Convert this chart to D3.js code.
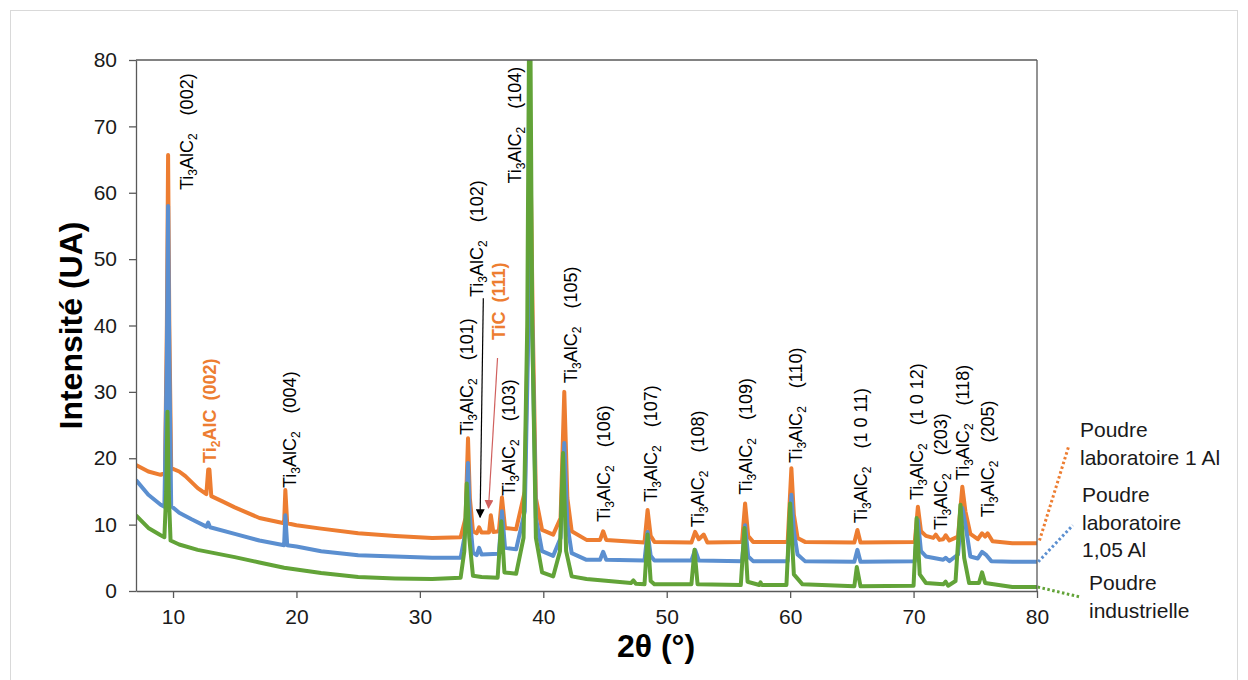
<!DOCTYPE html>
<html><head><meta charset="utf-8">
<script src="https://cdn.jsdelivr.net/npm/d3@7"></script>
<style>
html,body{margin:0;padding:0;background:#fff;}
svg{display:block;font-family:"Liberation Sans",Arial,sans-serif;}
</style></head>
<body><svg id="chart" width="1248" height="680"></svg>
<script>
// ---- Data (2θ in degrees, intensity in UA) ----
const seriesNames = ["Poudre laboratoire 1 Al","Poudre laboratoire 1,05 Al","Poudre industrielle"];
const seriesColors = ["#ED7D31","#5B8FD0","#62A338"];
const labo1Al = [[7,19],[8,18],[9,17.5],[9.35,17.8],[9.5,40],[9.6,65.7],[9.7,40],[9.85,18.5],[10.5,18],[11,17.3],[12,15.5],[12.7,14.6],[12.85,18.3],[12.95,18.3],[13.1,14.3],[14,13.5],[15,12.6],[17,11],[19,10.2],[19.1,15.2],[19.25,10.2],[20,9.9],[22,9.4],[25,8.7],[28,8.3],[31,8],[33.3,8.1],[33.7,11],[33.9,23],[34.05,14],[34.3,9],[34.6,8.7],[34.8,9.6],[35,8.8],[35.6,8.8],[35.75,11.4],[35.95,8.9],[36.4,9],[36.65,14.1],[36.9,9.5],[37.8,9.3],[38.5,15],[38.8,45],[38.95,67],[39.15,40],[39.4,14],[39.9,9.2],[40.8,8.5],[41.4,11],[41.7,30],[41.95,14],[42.3,9],[43.5,7.7],[44.6,7.7],[44.85,9],[45.1,7.7],[48.2,7.3],[48.45,12.2],[48.7,8.3],[49,7.4],[52,7.3],[52.3,8.9],[52.6,7.8],[53,8.5],[53.3,7.3],[56.1,7.4],[56.35,13.2],[56.6,8.3],[57,7.4],[59.8,7.4],[60.1,18.5],[60.3,11.5],[60.6,8],[61.2,7.4],[65.2,7.3],[65.45,9.2],[65.7,7.3],[70.1,7.4],[70.35,12.7],[70.6,9],[71,8.3],[71.6,8],[71.8,8.5],[72.1,7.7],[72.4,7.8],[72.6,8.4],[72.9,7.6],[73.6,8.2],[73.95,15.7],[74.2,12],[74.6,8.6],[75.2,7.8],[75.55,8.7],[75.8,8.2],[76,8.7],[76.4,7.5],[78,7.2],[80,7.2]];
const labo105Al = [[7,16.7],[8,14.5],[9,13],[9.3,12.7],[9.5,35],[9.6,58],[9.7,35],[9.85,12.8],[10.5,11.8],[11.5,10.8],[12.7,9.7],[12.85,10.3],[13,9.6],[15,8.6],[17,7.6],[19,6.9],[19.1,11.4],[19.25,6.9],[20,6.7],[22,6],[25,5.4],[28,5.2],[31,5],[33.3,5],[33.7,9],[33.9,19.3],[34.05,11],[34.3,5.8],[34.6,5.4],[34.8,6.5],[35,5.5],[36.4,5.6],[36.65,12],[36.9,6.5],[37.8,6.3],[38.5,12],[38.8,40],[38.95,58],[39.15,35],[39.4,11],[39.9,6],[40.8,5.3],[41.4,8],[41.7,22.3],[41.95,10],[42.3,5.7],[43.5,4.7],[44.6,4.7],[44.85,5.9],[45.1,4.7],[48.2,4.6],[48.45,8.9],[48.7,5.3],[49,4.6],[52,4.6],[52.3,6.2],[52.6,4.6],[56.1,4.5],[56.35,9.9],[56.6,5.2],[57,4.5],[59.8,4.5],[60.1,14.5],[60.3,9],[60.6,5.5],[61.2,4.5],[65.2,4.4],[65.45,6.2],[65.7,4.4],[70.1,4.5],[70.35,10.7],[70.6,6],[71,5.2],[72.4,4.7],[72.6,5],[72.9,4.5],[73.6,5.5],[73.95,12.5],[74.2,10],[74.6,5.2],[75.2,4.9],[75.55,5.9],[75.9,5.4],[76.3,4.5],[78,4.4],[80,4.4]];
const industrielle = [[7,11.4],[8,9.5],[9,8.4],[9.3,8.1],[9.45,15],[9.55,27],[9.65,15],[9.8,7.6],[10.5,7],[12,6.2],[15,5.1],[17,4.3],[19,3.5],[22,2.7],[25,2.1],[28,1.9],[31,1.8],[33.3,2],[33.6,6],[33.8,16.2],[34,8],[34.3,2.3],[35,2.1],[36.3,2],[36.6,10.5],[36.85,2.8],[37.8,2.6],[38.4,8],[38.7,40],[38.9,100],[39.1,40],[39.4,8],[39.9,2.8],[40.8,2.2],[41.35,6],[41.6,20.8],[41.85,6],[42.3,2.2],[43.5,1.8],[47.1,1.2],[47.3,1.6],[47.5,1.1],[48.2,1],[48.45,8.5],[48.7,1.5],[49,1],[52,1],[52.25,6.2],[52.5,1],[56,0.9],[56.3,9.5],[56.55,1.4],[57.5,0.9],[57.6,1.3],[57.7,0.9],[59.7,0.9],[60,13.2],[60.3,2.5],[61,1],[65.2,0.7],[65.4,3.6],[65.7,0.7],[70,0.8],[70.25,11],[70.5,2.5],[71,1.2],[72.4,1],[72.6,1.4],[72.8,0.8],[73.4,1.5],[73.8,13],[74.1,5],[74.5,1.2],[75.3,1.2],[75.55,2.8],[75.8,1.2],[78,0.6],[80,0.6]];
const xTicks = [10,20,30,40,50,60,70,80];
const yTicks = [0,10,20,30,40,50,60,70,80];

// Peak annotation labels: phase, hkl, 2θ position, intensity where the text starts
const peakPhase = ["Ti3AlC2","Ti2AlC","Ti3AlC2","Ti3AlC2","Ti3AlC2","TiC","Ti3AlC2","Ti3AlC2","Ti3AlC2","Ti3AlC2","Ti3AlC2","Ti3AlC2","Ti3AlC2","Ti3AlC2","Ti3AlC2","Ti3AlC2","Ti3AlC2","Ti3AlC2","Ti3AlC2"];
const peakHkl = ["(002)","(002)","(004)","(101)","(102)","(111)","(103)","(104)","(105)","(106)","(107)","(108)","(109)","(110)","(1 0 11)","(1 0 12)","(203)","(118)","(205)"];
const peakLabelX = [11.13,12.92,19.4,33.8,34.6,36.4,37.15,37.7,42.2,44.85,48.65,52.5,56.4,60.4,65.7,70.2,72.15,74.0,75.96];
const peakLabelY = [60.4,19.3,15.5,23.5,44.3,37.8,14.3,61.4,31.3,10.4,13.4,9.6,14.5,19.3,10.2,13.7,9.2,16.7,11.1];

// ---- Layout ----
const svg = d3.select("#chart");
const x = d3.scaleLinear().domain([7,80]).range([136,1037]);
const y = d3.scaleLinear().domain([0,80]).range([591,60]);

svg.append("rect").attr("x",10.5).attr("y",10.5).attr("width",1227).attr("height",700)
  .attr("fill","#fff").attr("stroke","#d9d9d9").attr("stroke-width",1);

const defs = svg.append("defs");
defs.append("clipPath").attr("id","plotclip")
  .append("rect").attr("x",x(7)).attr("y",y(80)).attr("width",x(80)-x(7)).attr("height",y(0)-y(80)+6);
defs.append("marker").attr("id","arrBlack").attr("viewBox","0 0 10 10").attr("refX",9).attr("refY",5)
  .attr("markerWidth",9).attr("markerHeight",9).attr("markerUnits","userSpaceOnUse").attr("orient","auto")
  .append("path").attr("d","M0,0L10,5L0,10z").attr("fill","#000");
defs.append("marker").attr("id","arrRed").attr("viewBox","0 0 10 10").attr("refX",9).attr("refY",5)
  .attr("markerWidth",9).attr("markerHeight",9).attr("markerUnits","userSpaceOnUse").attr("orient","auto")
  .append("path").attr("d","M0,0L10,5L0,10z").attr("fill","#d0605e");

// Series lines
const line = d3.line().x(d=>x(d[0])).y(d=>y(d[1]));
const allSeries = [labo1Al, labo105Al, industrielle];
const g = svg.append("g").attr("clip-path","url(#plotclip)");
allSeries.forEach((s,i)=>{
  g.append("path").datum(s).attr("d",line).attr("fill","none")
   .attr("stroke",seriesColors[i]).attr("stroke-width",4).attr("stroke-linejoin","round");
});

// Frame top/right
svg.append("line").attr("x1",x(7)).attr("x2",x(80)).attr("y1",y(80)).attr("y2",y(80)).attr("stroke","#595959").attr("stroke-width",1.3);
svg.append("line").attr("x1",x(80)).attr("x2",x(80)).attr("y1",y(80)).attr("y2",y(0)).attr("stroke","#595959").attr("stroke-width",1.3);

// Axes
const xAxis = svg.append("g").attr("transform",`translate(0,${y(0)})`)
  .call(d3.axisBottom(x).tickValues(xTicks).tickSize(7).tickSizeOuter(0).tickPadding(11));
const yAxis = svg.append("g").attr("transform",`translate(${x(7)},0)`)
  .call(d3.axisLeft(y).tickValues(yTicks).tickSize(7).tickSizeOuter(0).tickPadding(12));
[xAxis,yAxis].forEach(a=>{
  a.select(".domain").attr("stroke","#595959").attr("stroke-width",1.3);
  a.selectAll(".tick line").attr("stroke","#595959").attr("stroke-width",1.3);
  a.selectAll("text").attr("font-size",21).attr("fill","#1a1a1a").attr("font-family","Liberation Sans, Arial, sans-serif");
});

// Axis titles
svg.append("text").attr("transform",`translate(82,${(y(0)+y(80))/2}) rotate(-90)`)
  .attr("text-anchor","middle").attr("font-size",32).attr("font-weight","bold").attr("fill","#000")
  .text("Intensité (UA)");
svg.append("text").attr("x",656).attr("y",657)
  .attr("text-anchor","middle").attr("font-size",32).attr("font-weight","bold").attr("fill","#000")
  .text("2θ (°)");

// Peak labels
const lab = svg.append("g");
peakPhase.forEach((ph,i)=>{
  const isOther = ph !== "Ti3AlC2";
  const t = lab.append("text")
    .attr("transform",`translate(${x(peakLabelX[i])},${y(peakLabelY[i])}) rotate(-90)`)
    .attr("y",6.5).attr("font-size",18)
    .attr("fill", isOther ? "#ED7D31" : "#000")
    .attr("font-weight", isOther ? "bold" : "normal");
  const parts = ph.match(/[A-Za-z]+|\d+/g);
  let sub = false;
  parts.forEach(p=>{
    const isNum = /\d/.test(p);
    const ts = t.append("tspan").text(p);
    if (isNum && !sub){ ts.attr("dy",4).attr("font-size",12); sub = true; }
    else if (!isNum && sub){ ts.attr("dy",-4); sub = false; }
    else if (isNum) ts.attr("font-size",12);
  });
  const h = t.append("tspan").text(peakHkl[i]).attr("dx", isOther ? 9 : 18);
  if (sub) h.attr("dy",-4);
});

// Arrows
svg.append("line").attr("x1",x(35.14)).attr("y1",y(44.1)).attr("x2",x(34.88)).attr("y2",y(11.1))
  .attr("stroke","#000").attr("stroke-width",1.2).attr("marker-end","url(#arrBlack)");
svg.append("line").attr("x1",x(36.29)).attr("y1",y(35.1)).attr("x2",x(35.56)).attr("y2",y(12.5))
  .attr("stroke","#d0605e").attr("stroke-width",1.2).attr("marker-end","url(#arrRed)");

// Legend: dotted leaders + texts
const legFrom = [[80.2,7.6],[80.1,4.4],[80.05,0.6]];
const legTo = [[82.6,22],[82.9,9.9],[83.5,-0.9]];
const legText = [["Poudre","laboratoire 1 Al"],["Poudre","laboratoire","1,05 Al"],["Poudre","industrielle"]];
const legTextX = [1080,1082,1089];
const legTextY = [437,502,590];
legFrom.forEach((f,i)=>{
  svg.append("line").attr("x1",x(f[0])).attr("y1",y(f[1])).attr("x2",x(legTo[i][0])).attr("y2",y(legTo[i][1]))
    .attr("stroke",seriesColors[i]).attr("stroke-width",3).attr("stroke-dasharray","2.5,2.5");
  const t = svg.append("text").attr("x",legTextX[i]).attr("y",legTextY[i]).attr("font-size",21).attr("fill","#1a1a1a");
  legText[i].forEach((l,j)=>{
    t.append("tspan").attr("x",legTextX[i]).attr("dy", j===0?0:27.5).text(l);
  });
});
</script></body></html>
